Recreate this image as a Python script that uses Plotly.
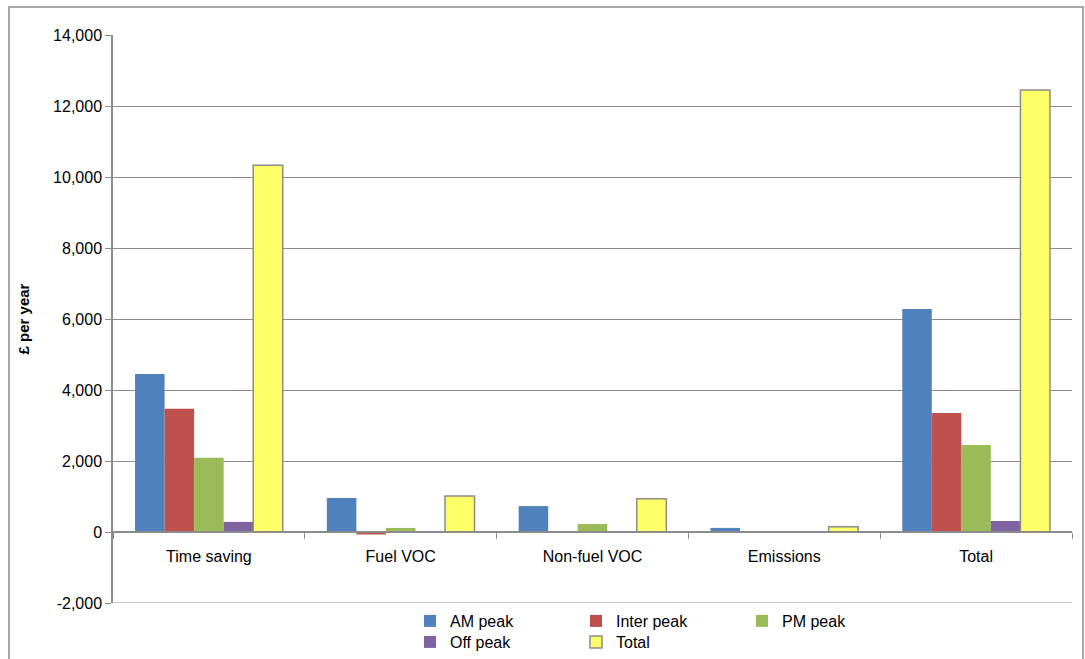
import plotly.graph_objects as go

categories = ["Time saving", "Fuel VOC", "Non-fuel VOC", "Emissions", "Total"]
series_names = ["AM peak", "Inter peak", "PM peak", "Off peak", "Total"]
am_peak = [4450, 960, 730, 115, 6280]
inter_peak = [3470, -70, -20, -5, 3350]
pm_peak = [2090, 115, 225, 5, 2450]
off_peak = [285, 0, 0, 0, 310]
total = [10330, 1015, 935, 145, 12450]
y_ticks = [-2000, 0, 2000, 4000, 6000, 8000, 10000, 12000, 14000]
y_tick_labels = ["-2,000", "0", "2,000", "4,000", "6,000", "8,000",
                 "10,000", "12,000", "14,000"]

colors = ["#4F81BD", "#C0504D", "#9BBB59", "#8064A2", "#FFFF66"]
values = [am_peak, inter_peak, pm_peak, off_peak, total]
font_family = "Liberation Sans, Arial, sans-serif"
axis_grey = "#8C8C8C"

W, H = 1085, 659
L, R, T, B = 113, 13, 35, 56
plot_w = W - L - R
plot_h = H - T - B

fig = go.Figure()
for i, (name, vals, col) in enumerate(zip(series_names, values, colors)):
    is_total = name == "Total"
    fig.add_trace(go.Bar(
        x=categories, y=vals, name=name,
        marker=dict(color=col,
                    line=dict(color=axis_grey, width=1.5 if is_total else 0)),
        legend="legend" if i < 3 else "legend2",
    ))

ymin, ymax = y_ticks[0], y_ticks[-1]
zero_frac = (0 - ymin) / (ymax - ymin)

def px_x(p):
    return (p - L) / plot_w

def px_y(p):
    return (H - B - p) / plot_h

legend_common = dict(
    orientation="h", xanchor="left", yanchor="middle",
    font=dict(family=font_family, size=16, color="#000000"),
    entrywidth=121, entrywidthmode="pixels",
    itemwidth=30, bgcolor="rgba(0,0,0,0)", tracegroupgap=0,
)

fig.update_layout(
    width=W, height=H,
    margin=dict(l=L, r=R, t=T, b=B, pad=0, autoexpand=False),
    paper_bgcolor="white", plot_bgcolor="white",
    barmode="group", bargap=0.23, bargroupgap=0,
    font=dict(family=font_family, size=16, color="#000000"),
    legend=dict(x=px_x(410), y=px_y(621), **legend_common),
    legend2=dict(x=px_x(410), y=px_y(642), **legend_common),
    xaxis=dict(
        anchor="free", position=zero_frac,
        showline=True, linecolor=axis_grey, linewidth=1.5,
        ticks="outside", ticklen=6, tickcolor=axis_grey,
        tickson="boundaries", showgrid=False, zeroline=False,
        ticklabelstandoff=10,
        tickfont=dict(family=font_family, size=16),
    ),
    yaxis=dict(
        range=[ymin, ymax], tickvals=y_ticks, ticktext=y_tick_labels,
        showline=True, linecolor=axis_grey, linewidth=1.5,
        ticks="outside", ticklen=6, tickcolor=axis_grey,
        showgrid=True, gridcolor=axis_grey, gridwidth=1.2,
        zeroline=False,
        tickfont=dict(family=font_family, size=16),
        title=dict(text="<b>£ per year</b>", standoff=20,
                   font=dict(family=font_family, size=15)),
    ),
    shapes=[
        # outer chart frame
        dict(type="rect", xref="paper", yref="paper",
             x0=px_x(9), x1=px_x(1083), y0=px_y(665), y1=px_y(7),
             line=dict(color=axis_grey, width=1.5),
             fillcolor="rgba(0,0,0,0)", layer="below"),
        # bottom gridline of the plot area
        dict(type="line", xref="paper", yref="y",
             x0=0, x1=1, y0=ymin, y1=ymin,
             line=dict(color=axis_grey, width=1.2), layer="below"),
    ],
)

fig.write_html("out.html")
